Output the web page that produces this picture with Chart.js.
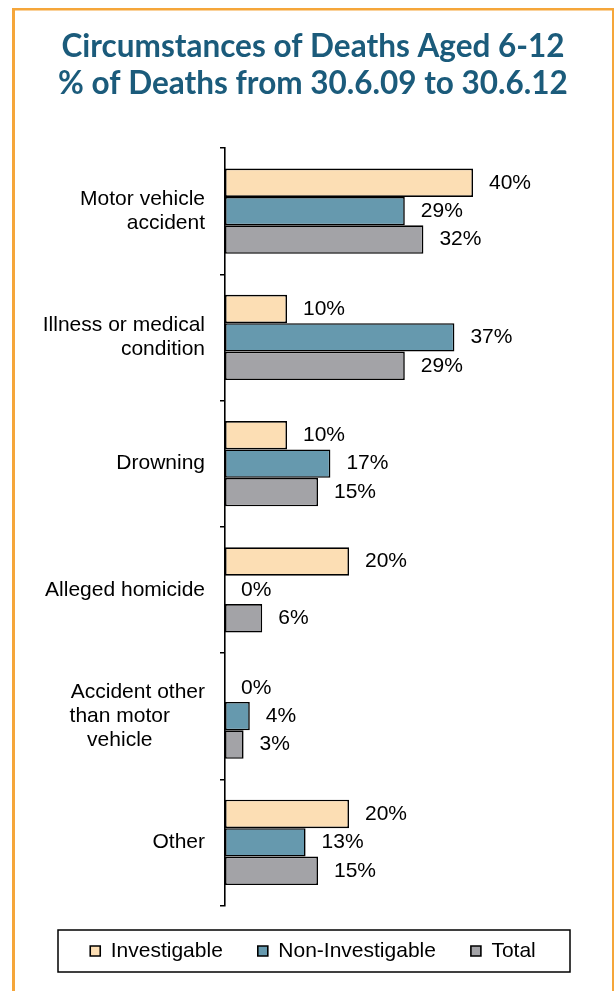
<!DOCTYPE html>
<html>
<head>
<meta charset="utf-8">
<script src="https://cdn.jsdelivr.net/npm/chart.js@4/dist/chart.umd.min.js"></script>
<style>
  html, body { margin: 0; padding: 0; background: #fff; }
  #wrap { width: 616px; height: 991px; position: relative; }
</style>
</head>
<body>
<div id="wrap"><canvas id="c" width="616" height="991"></canvas></div>
<script>
// ---- data ----
const categories = [
  ["Motor vehicle", "accident"],
  ["Illness or medical", "condition"],
  "Drowning",
  "Alleged homicide",
  ["Accident other", "than motor\u00A0\u00A0\u00A0\u00A0\u00A0\u00A0", "vehicle\u00A0\u00A0\u00A0\u00A0\u00A0\u00A0\u00A0\u00A0\u00A0"],
  "Other"
];
const seriesNames = ["Investigable", "Non-Investigable", "Total"];
const investigable = [40, 10, 10, 20, 0, 20];
const nonInvestigable = [29, 37, 17, 0, 4, 13];
const total = [32, 29, 15, 6, 3, 15];
const titleLines = ["Circumstances of Deaths Aged 6-12", "% of Deaths from 30.6.09 to 30.6.12"];
const xMin = 0, xMax = 50;

const colors = ["#fcdeb4", "#6699ae", "#a3a3a7"];
const seriesValues = [investigable, nonInvestigable, total];

Chart.defaults.font.family = "'Liberation Sans', Arial, sans-serif";
Chart.defaults.font.size = 21;
Chart.defaults.color = "#000";

const framePlugin = {
  id: "frame",
  beforeDraw(chart) {
    const ctx = chart.ctx;
    ctx.save();
    ctx.fillStyle = "#f5a63a";
    ctx.fillRect(12, 8, 3, 991);
    ctx.fillRect(12, 8, 602, 2.5);
    ctx.fillRect(612, 8, 2, 991);
    ctx.restore();
  },
  afterDraw(chart) {
    const lg = chart.legend;
    if (!lg) return;
    const ctx = chart.ctx;
    const cx = (lg.left + lg.right) / 2 + 1;
    const pad = lg.options.labels.padding;
    const cy = lg.top + pad + 10.5;
    ctx.save();
    ctx.strokeStyle = "#000";
    ctx.lineWidth = 1.5;
    ctx.strokeRect(cx - 256, cy - 21, 512, 42);
    ctx.restore();
  }
};

const valueLabels = {
  id: "valueLabels",
  afterDatasetsDraw(chart) {
    const ctx = chart.ctx;
    ctx.save();
    ctx.font = "21px 'Liberation Sans', Arial, sans-serif";
    ctx.fillStyle = "#000";
    ctx.textAlign = "left";
    ctx.textBaseline = "middle";
    chart.data.datasets.forEach((ds, di) => {
      const meta = chart.getDatasetMeta(di);
      meta.data.forEach((el, i) => {
        ctx.fillText(ds.data[i] + "%", el.x + 16, el.y);
      });
    });
    ctx.restore();
  }
};

new Chart(document.getElementById("c"), {
  type: "bar",
  data: {
    labels: categories,
    datasets: seriesNames.map((name, k) => ({
      label: name,
      data: seriesValues[k],
      backgroundColor: colors[k],
      borderColor: "#000",
      borderWidth: 1.6,
      borderSkipped: false,
      categoryPercentage: 0.675,
      barPercentage: 1
    }))
  },
  options: {
    indexAxis: "y",
    responsive: false,
    animation: false,
    devicePixelRatio: 1,
    layout: { padding: { top: 8, left: 12, right: 2, bottom: 19.5 } },
    scales: {
      x: { display: false, min: xMin, max: xMax },
      y: {
        position: "left",
        offset: true,
        grid: { display: true, drawOnChartArea: false, drawTicks: true, tickLength: 5, color: "#000", lineWidth: 1.5, offset: true },
        border: { display: true, color: "#000", width: 1.6 },
        ticks: { padding: 15, color: "#000", font: { size: 21, lineHeight: 1.15 }, autoSkip: false },
        afterFit(s) { s.width = 213; }
      },
      yRight: {
        type: "linear",
        position: "right",
        display: true,
        min: 0, max: 1,
        grid: { display: false },
        border: { display: false },
        ticks: { display: false },
        afterFit(s) { s.width = 79; }
      }
    },
    plugins: {
      title: {
        display: true,
        text: titleLines,
        color: "#1b5b7b",
        font: { family: "Lato, 'Liberation Sans', sans-serif", weight: "bold", size: 31.5, lineHeight: 1.175 },
        padding: { top: 20, bottom: 46 }
      },
      legend: {
        display: true,
        position: "bottom",
        labels: {
          boxWidth: 10,
          boxHeight: 10,
          padding: 35,
          color: "#000",
          font: { size: 21 }
        }
      },
      tooltip: { enabled: false }
    }
  },
  plugins: [framePlugin, valueLabels]
});
</script>
</body>
</html>
